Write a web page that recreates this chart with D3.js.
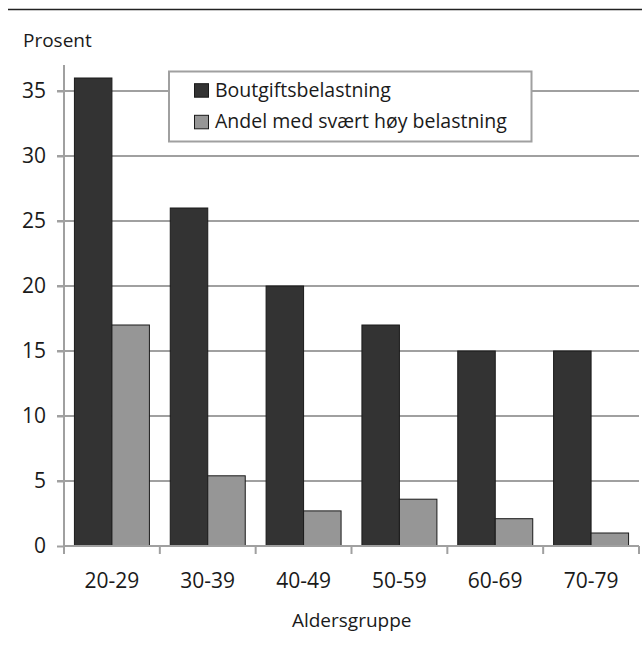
<!DOCTYPE html>
<html><head><meta charset="utf-8">
<script src="https://cdn.jsdelivr.net/npm/d3@7"></script>
<style>body{margin:0;background:#fff}svg{display:block}text{font-family:"Open Sans",sans-serif;fill:#1a1a1a}</style>
</head><body><svg id="c" width="642" height="646"></svg>
<script>
const categories = ["20-29","30-39","40-49","50-59","60-69","70-79"];
const seriesNames = ["Boutgiftsbelastning","Andel med svært høy belastning"];
const boutgift = [36,26,20,17,15,15];
const svaertHoy = [17,5.4,2.7,3.6,2.1,1.0];
const yTicks = [0,5,10,15,20,25,30,35];
const colors = ["#333333","#969696"];

(function(){
const svg = d3.select("#c");
const pL = 64, pR = 639, pT = 65, pB = 546;
const x = d3.scaleBand().domain(categories).range([pL,pR]).paddingInner(0).paddingOuter(0);
const y = d3.scaleLinear().domain([0,37]).range([pB,pT]);
const inner = d3.scaleBand().domain([0,1]).range([0,x.bandwidth()]).paddingInner(0).paddingOuter(0.278);

// top rule
svg.append("line").attr("x1",8).attr("x2",642).attr("y1",9.5).attr("y2",9.5).attr("stroke","#222").attr("stroke-width",1.5);

// gridlines
svg.append("g").selectAll("line").data(yTicks.filter(d=>d>0)).join("line")
  .attr("x1",pL-7).attr("x2",pR).attr("y1",d=>y(d)).attr("y2",d=>y(d))
  .attr("stroke","#a0a0a0").attr("stroke-width",2);

// y axis
const ya = svg.append("g").attr("transform",`translate(${pL},0)`)
  .call(d3.axisLeft(y).tickValues(yTicks).tickSize(7).tickPadding(11));
ya.attr("font-family",null).attr("font-size",null);
ya.select(".domain").remove();
ya.append("line").attr("x1",0).attr("x2",0).attr("y1",pT).attr("y2",pB+8).attr("stroke","#a0a0a0").attr("stroke-width",2);
ya.selectAll(".tick line").attr("stroke","#a0a0a0").attr("stroke-width",2);
ya.selectAll("text").attr("font-size",21).attr("fill","#1a1a1a");

// bars
const grp = svg.append("g").selectAll("g").data(categories).join("g")
  .attr("transform",d=>`translate(${x(d)},0)`);
grp.selectAll("rect").data((d,i)=>[boutgift[i],svaertHoy[i]]).join("rect")
  .attr("x",(d,j)=>inner(j)).attr("width",inner.bandwidth())
  .attr("y",d=>y(d)).attr("height",d=>pB-y(d))
  .attr("fill",(d,j)=>colors[j]).attr("stroke","#1a1a1a").attr("stroke-width",1);

// x axis
const xa = svg.append("g").attr("transform",`translate(0,${pB})`);
xa.append("line").attr("x1",pL).attr("x2",pR).attr("y1",0).attr("y2",0).attr("stroke","#a0a0a0").attr("stroke-width",2);
const bounds = categories.map(c=>x(c)).concat([x(categories[categories.length-1])+x.bandwidth()]);
xa.selectAll("line.t").data(bounds).join("line").attr("class","t")
  .attr("x1",d=>d).attr("x2",d=>d).attr("y1",0).attr("y2",8).attr("stroke","#a0a0a0").attr("stroke-width",2);
xa.selectAll("text").data(categories).join("text")
  .attr("x",d=>x(d)+x.bandwidth()/2).attr("y",42).attr("text-anchor","middle").attr("font-size",21).text(d=>d);

// axis titles
svg.append("text").attr("x",23).attr("y",46.5).attr("font-size",19).text("Prosent");
svg.append("text").attr("x",351.7).attr("y",626.5).attr("text-anchor","middle").attr("font-size",19).text("Aldersgruppe");

// legend
const lg = svg.append("g");
lg.append("rect").attr("x",169).attr("y",71.5).attr("width",362.5).attr("height",70).attr("fill","#fff").attr("stroke","#a0a0a0").attr("stroke-width",2);
seriesNames.forEach((n,i)=>{
  const base = 96.7 + i*31.6;
  lg.append("rect").attr("x",194.5).attr("y",base-13).attr("width",14).attr("height",13.5).attr("fill",colors[i]).attr("stroke","#1a1a1a").attr("stroke-width",1);
  lg.append("text").attr("x",215).attr("y",base).attr("font-size",19.5).text(n);
});
})();
</script></body></html>
